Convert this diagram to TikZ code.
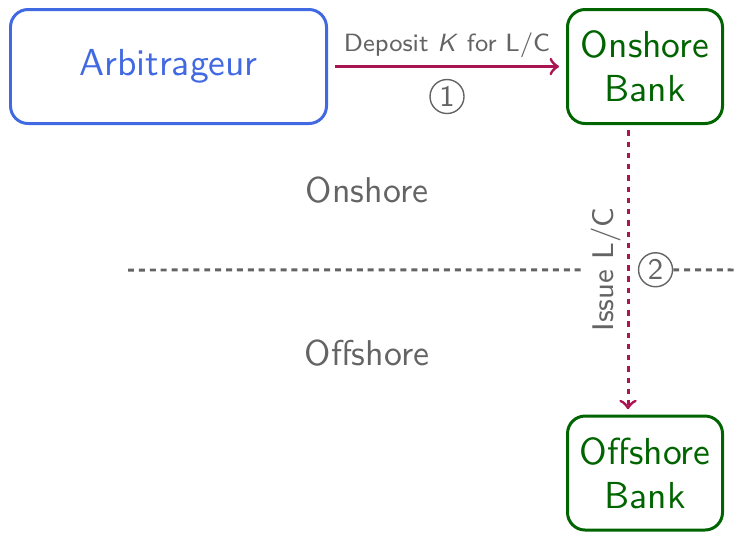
\documentclass[tikz,border=0pt]{standalone}
\usepackage{tikz}

\definecolor{arbblue}{RGB}{65,105,225}
\definecolor{bankgreen}{RGB}{0,100,0}
\definecolor{flowred}{RGB}{170,20,80}
\definecolor{zonegray}{RGB}{100,100,100}

\tikzset{
    party/.style={draw, rounded corners=5pt, line width=0.85pt, align=center,
        font=\sffamily\fontsize{10.7}{12.6}\selectfont},
    flow/.style={->, flowred, line width=0.85pt, shorten >=2pt, shorten <=2pt},
    stepnum/.style={circle, draw=zonegray, thin, solid, text=zonegray, minimum size=0.34cm,
        inner sep=0pt, font=\sffamily\fontsize{8.5}{10}\selectfont},
    divider/.style={zonegray, line width=0.85pt, dash pattern=on 1.7pt off 1.4pt},
    zone/.style={text=zonegray, font=\sffamily\fontsize{10.2}{12}\selectfont},
    flowtext/.style={text=zonegray, font=\sffamily\fontsize{7.1}{9}\selectfont}
}

\begin{document}
\begin{tikzpicture}
        \useasboundingbox (0,0) rectangle (7.37,-5.33);

        \node[party, arbblue, minimum width=3.16cm, minimum height=1.14cm] (arb) at (1.685,-0.665) {Arbitrageur};
        \node[party, bankgreen, minimum width=1.55cm, minimum height=1.14cm] (onbank) at (6.45,-0.665) {Onshore\\Bank};
        \node[party, bankgreen, minimum width=1.55cm, minimum height=1.14cm] (offbank) at (6.45,-4.73) {Offshore\\Bank};

        \node[zone] (onlabel) at (3.67,-1.90) {Onshore};
        \node[zone] (offlabel) at (3.67,-3.53) {Offshore};

        \coordinate (divL) at (1.28,-2.70);
        \coordinate (divR) at (7.37,-2.70);

        % deposit, then letter of credit
        \draw[flow] (arb) -- node[flowtext, above=-1.4pt] (deposit) {Deposit \textsl{K} for L/C}
            node[stepnum, below=3.5pt] (num1) {1} (onbank);
        \draw[flow, shorten >=1.5pt, shorten <=1.5pt, dash pattern=on 1.5pt off 1.7pt]
            ([xshift=-0.17cm]onbank.south) --
            node[flowtext, font=\sffamily\fontsize{8.5}{10}\selectfont, rotate=90, anchor=south, inner sep=1.5pt] (issue) {Issue L/C}
            node[stepnum, right=2.8pt] (num2) {2} ([xshift=-0.17cm]offbank.north);

        \draw[divider] (divL) -- (issue.north);
        \draw[divider] (num2.east) -- (divR);
    \end{tikzpicture}
\end{document}
